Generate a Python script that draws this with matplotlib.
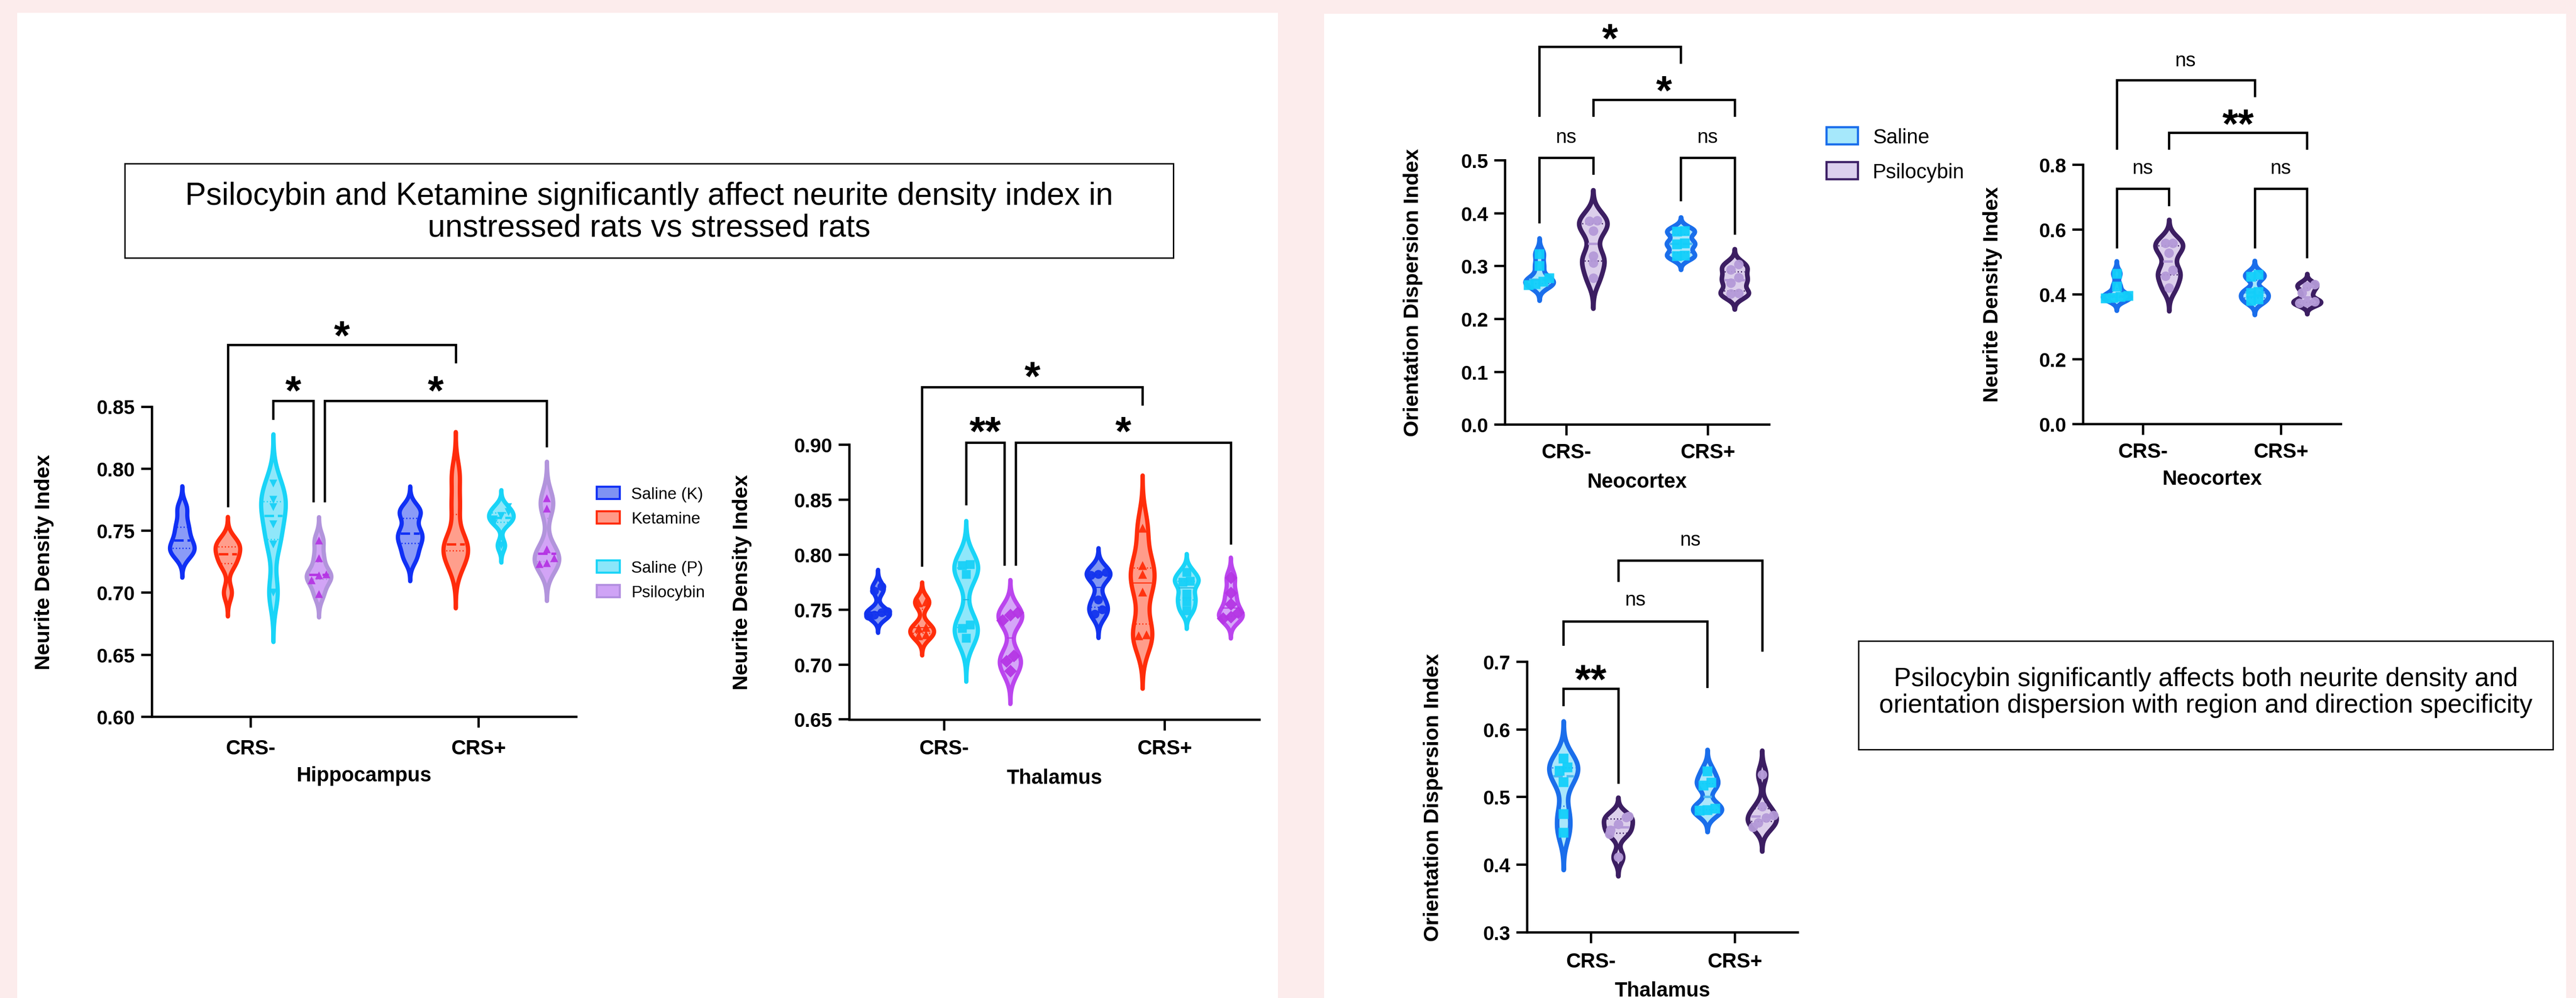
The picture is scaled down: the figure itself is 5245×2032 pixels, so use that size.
import matplotlib
matplotlib.use("Agg")
import matplotlib.pyplot as plt
import numpy as np
from matplotlib import transforms
from matplotlib.patches import Rectangle, Patch
from matplotlib.ticker import FormatStrFormatter

W, H, DPI = 5245, 2033, 100
PINK = "#fcecec"
plt.rcParams["font.family"] = ["Liberation Sans", "DejaVu Sans"]

# ---------------- data ----------------
groups = ["CRS-", "CRS+"]

hip_names = ["Saline (K)", "Ketamine", "Saline (P)", "Psilocybin"]
hip_neg = [
    [0.730, 0.735, 0.738, 0.746, 0.755, 0.768],
    [0.700, 0.722, 0.728, 0.734, 0.738, 0.742],
    [0.700, 0.739, 0.755, 0.769, 0.775, 0.788],
    [0.699, 0.710, 0.714, 0.715, 0.728, 0.742],
]
hip_pos = [
    [0.728, 0.738, 0.745, 0.750, 0.763, 0.767],
    [0.722, 0.733, 0.736, 0.742, 0.770, 0.795],
    [0.738, 0.756, 0.759, 0.762, 0.765, 0.769],
    [0.723, 0.724, 0.728, 0.735, 0.768, 0.776],
]
thal_neg = [
    [0.744, 0.745, 0.747, 0.748, 0.767, 0.771],
    [0.726, 0.727, 0.733, 0.734, 0.756, 0.757],
    [0.724, 0.733, 0.736, 0.782, 0.790, 0.791],
    [0.694, 0.703, 0.708, 0.740, 0.745, 0.747],
]
thal_pos = [
    [0.746, 0.750, 0.759, 0.781, 0.782, 0.784],
    [0.726, 0.727, 0.766, 0.782, 0.790, 0.824],
    [0.749, 0.757, 0.764, 0.775, 0.776, 0.784],
    [0.742, 0.743, 0.747, 0.755, 0.765, 0.779],
]

psi_names = ["Saline", "Psilocybin"]
neo_odi_neg = [[0.264, 0.266, 0.271, 0.277, 0.300, 0.323],
               [0.277, 0.306, 0.319, 0.366, 0.385, 0.386]]
neo_odi_pos = [[0.319, 0.320, 0.341, 0.343, 0.365, 0.366],
               [0.247, 0.248, 0.268, 0.278, 0.293, 0.303]]
neo_ndi_neg = [[0.388, 0.390, 0.392, 0.395, 0.425, 0.464],
               [0.420, 0.456, 0.475, 0.527, 0.557, 0.558]]
neo_ndi_pos = [[0.380, 0.385, 0.405, 0.408, 0.455, 0.460],
               [0.372, 0.375, 0.378, 0.405, 0.425, 0.430]]
thal_odi_neg = [[0.447, 0.475, 0.522, 0.539, 0.544, 0.557],
                [0.411, 0.445, 0.451, 0.460, 0.470, 0.471]]
thal_odi_pos = [[0.480, 0.481, 0.483, 0.517, 0.521, 0.538],
                [0.455, 0.462, 0.469, 0.473, 0.486, 0.533]]

title_left = "Psilocybin and Ketamine significantly affect neurite density index in\nunstressed rats vs stressed rats"
title_right = "Psilocybin significantly affects both neurite density and\norientation dispersion with region and direction specificity"

# ---------------- styles ----------------
hip_style = [
    dict(edge="#1030f5", face="#8a9bf7", marker=None, mc="#1030f5", medc="#1030f5"),
    dict(edge="#ff2b0b", face="#ff9e8c", marker=None, mc="#ff2b0b", medc="#ff2b0b"),
    dict(edge="#19d4f7", face="#8fe7fa", marker="v", mc="#17d0f7", medc="#19d4f7"),
    dict(edge="#b294dc", face="#d2a4f6", marker="^", mc="#b535e4", medc="#b535e4"),
]
thal_style = [
    dict(edge="#1233ee", face="#8297f2", marker="o", mc="#1233ee", medc="#1233ee"),
    dict(edge="#ff2d0a", face="#ff9c8a", marker="^", mc="#ff2d0a", medc="#ff2d0a"),
    dict(edge="#19d4f7", face="#8fe7fa", marker="s", mc="#17d0f7", medc="#19b8e0"),
    dict(edge="#bb45ee", face="#d5a6f8", marker="D", mc="#b535e4", medc="#b535e4"),
]
psi_style = [
    dict(edge="#1a6eeb", face="#a9e6fb", marker="s", mc="#12cffa", medc="#4cb9f2"),
    dict(edge="#3c1e62", face="#dccfeb", marker="o", mc="#b49ad8", medc="#b49ad8"),
]

fig = plt.figure(figsize=(W / DPI, H / DPI), dpi=DPI, facecolor=PINK)
fig.add_artist(Rectangle((35 / W, 0), (2602 - 35) / W, 1 - 27 / H, transform=fig.transFigure,
                         facecolor="white", edgecolor="none", zorder=0))
fig.add_artist(Rectangle((2696 / W, 0), (5225 - 2696) / W, 1 - 29 / H, transform=fig.transFigure,
                         facecolor="white", edgecolor="none", zorder=0))


def px_axes(x0, x1, y0, y1):
    ax = fig.add_axes([x0 / W, 1 - y1 / H, (x1 - x0) / W, (y1 - y0) / H])
    ax.patch.set_visible(False)
    return ax


def kde_shape(vals):
    v = np.asarray(vals, float)
    h = 0.42 * v.std(ddof=1)
    y = np.linspace(v.min() - 3 * h, v.max() + 3 * h, 400)
    d = np.exp(-0.5 * ((y[:, None] - v[None, :]) / h) ** 2).sum(axis=1)
    return y, d / d.max()


def swarm(vals, tol, dx, y, half):
    v = np.asarray(vals, float)
    order = np.argsort(v)
    offs = np.zeros_like(v)
    clusters, cur = [], [order[0]]
    for a, b in zip(order[:-1], order[1:]):
        if v[b] - v[a] < tol:
            cur.append(b)
        else:
            clusters.append(cur)
            cur = [b]
    clusters.append(cur)
    for c in clusters:
        for i, idx in enumerate(c):
            offs[idx] = (i - (len(c) - 1) / 2) * dx
    lim = np.interp(v, y, half) * 0.85
    return np.clip(offs, -lim, lim)


def violin(ax, vals, pos, width, st, med_kind, lw, tol, dx, ms):
    y, d = kde_shape(vals)
    half = d * width / 2
    ax.fill_betweenx(y, pos - half, pos + half, facecolor=st["face"], edgecolor=st["edge"],
                     linewidth=lw, joinstyle="round", capstyle="round", zorder=2)
    q1, md, q3 = np.percentile(vals, [25, 50, 75])
    for q in (q1, q3):
        hw = np.interp(q, y, half) * 0.8
        ax.plot([pos - hw, pos + hw], [q, q], color=st["edge"], lw=2.0,
                ls=(0, (0.8, 1.6)), zorder=3)
    hw = np.interp(md, y, half) * 0.8
    if med_kind == "solid":
        ax.plot([pos - hw, pos + hw], [md, md], color=st["medc"], lw=1.6, zorder=3)
    else:
        ax.plot([pos - hw, pos + hw], [md, md], color=st["medc"], lw=3.5,
                ls=(0, (4, 1.6)), zorder=3)
    if st["marker"]:
        xo = swarm(vals, tol, dx, y, half)
        ax.plot(pos + xo, vals, ls="none", marker=st["marker"], color=st["mc"],
                ms=ms, mec="none", zorder=4, alpha=0.95)


def style_axes(ax, xlim, ylim, ticks, fmt, ylabel, xlabel, ylab_x, xlab_y, xpad):
    ax.set_xlim(*xlim)
    ax.set_ylim(*ylim)
    for s in ("top", "right"):
        ax.spines[s].set_visible(False)
    for s in ("left", "bottom"):
        ax.spines[s].set_linewidth(3.4)
    ax.set_yticks(ticks)
    ax.yaxis.set_major_formatter(FormatStrFormatter(fmt))
    ax.set_xticks([0, 1])
    ax.set_xticklabels(groups)
    ax.tick_params(axis="both", length=16, width=3.4)
    ax.tick_params(axis="y", labelsize=29, pad=8.5)
    ax.tick_params(axis="x", labelsize=30, pad=xpad)
    for t in ax.get_xticklabels() + ax.get_yticklabels():
        t.set_fontweight("bold")
    ax.set_ylabel(ylabel, fontsize=31, fontweight="bold", va="center")
    ax.yaxis.set_label_coords(ylab_x, 0.5)
    ax.set_xlabel(xlabel, fontsize=30, fontweight="bold", va="center")
    ax.xaxis.set_label_coords(0.5, xlab_y)


def bracket(ax, x1, x2, ybar, yl, yr, text, ty):
    ax.plot([x1, x1, x2, x2], [yl, ybar, ybar, yr], color="black", lw=3.4,
            clip_on=False, solid_joinstyle="miter", zorder=5)
    if text == "ns":
        fs, k, wt = 29, 0.26, "normal"
    else:
        fs, k, wt = 60, 0.55, "bold"
    tr = transforms.offset_copy(ax.transData, fig=fig, y=-k * fs, units="points")
    ax.text((x1 + x2) / 2, ty, text, transform=tr, ha="center", va="baseline",
            fontsize=fs, fontweight=wt, clip_on=False, zorder=5)


def draw(ax, neg, pos, offsets, width, styles, med_kind, lw, tol, dx, ms):
    for base, grp in ((0.0, neg), (1.0, pos)):
        for vals, off, st in zip(grp, offsets, styles):
            violin(ax, vals, base + off, width, st, med_kind, lw, tol, dx, ms)


four = [-0.3, -0.1, 0.1, 0.3]
two = [-0.19, 0.19]

# ---- Hippocampus ----
ax = px_axes(309, 1173, 828.5, 1460)
draw(ax, hip_neg, hip_pos, four, 0.108, hip_style, "dash", 6.2, 0.0055, 0.032, 12)
style_axes(ax, (-0.433, 1.429), (0.60, 0.85), np.arange(0.60, 0.851, 0.05), "%.2f",
           "Neurite Density Index", "Hippocampus", -0.2535, -0.19, 16.5)
bracket(ax, -0.1, 0.9, 0.8997, 0.770, 0.886, "*", 0.9144)
bracket(ax, 0.1, 0.277, 0.8544, 0.8403, 0.7736, "*", 0.870)
bracket(ax, 0.325, 1.3, 0.8544, 0.7736, 0.818, "*", 0.870)

# ---- Thalamus (NDI) ----
ax = px_axes(1729, 2564, 906, 1465.5)
draw(ax, thal_neg, thal_pos, four, 0.108, thal_style, "solid", 6.2, 0.006, 0.034, 13)
style_axes(ax, (-0.43, 1.43), (0.65, 0.90), np.arange(0.65, 0.901, 0.05), "%.2f",
           "Neurite Density Index", "Thalamus", -0.261, -0.213, 12.5)
bracket(ax, -0.1, 0.9, 0.9525, 0.790, 0.9368, "*", 0.970)
bracket(ax, 0.1, 0.275, 0.902, 0.846, 0.791, "**", 0.920)
bracket(ax, 0.325, 1.3, 0.902, 0.791, 0.810, "*", 0.920)

fig.legend([Patch(facecolor="#7f93f3", edgecolor="#1030f5", lw=3),
            Patch(facecolor="#ff9a88", edgecolor="#ff2b0b", lw=3),
            Patch(facecolor="none", edgecolor="none"),
            Patch(facecolor="#8be6fa", edgecolor="#19d4f7", lw=3),
            Patch(facecolor="#cfa3f6", edgecolor="#b38fe0", lw=3)],
           [hip_names[0], hip_names[1], "", hip_names[2], hip_names[3]],
           loc="upper left", bbox_to_anchor=(1215 / W, 1 - 992 / H), frameon=False,
           fontsize=24, handlelength=1.41, handleheight=0.75, handletextpad=0.7,
           labelspacing=0.57, borderpad=0, borderaxespad=0)

# ---- Neocortex ODI ----
ax = px_axes(3064, 3602, 327, 865.4)
draw(ax, neo_odi_neg, neo_odi_pos, two, 0.2, psi_style, "dash", 6.8, 0.012, 0.055, 14)
style_axes(ax, (-0.434, 1.434), (0.0, 0.5), np.arange(0.0, 0.51, 0.1), "%.1f",
           "Orientation Dispersion Index", "Neocortex", -0.3476, -0.2167, 10)
bracket(ax, -0.19, 0.81, 0.7148, 0.5845, 0.685, "*", 0.7473)
bracket(ax, 0.19, 1.19, 0.614, 0.5845, 0.5845, "*", 0.6485)
bracket(ax, -0.19, 0.19, 0.5045, 0.383, 0.475, "ns", 0.543)
bracket(ax, 0.81, 1.19, 0.5045, 0.425, 0.362, "ns", 0.543)

# ---- Neocortex NDI ----
ax = px_axes(4241, 4766, 336, 864)
draw(ax, neo_ndi_neg, neo_ndi_pos, two, 0.2, psi_style, "dash", 6.8, 0.02, 0.055, 14)
style_axes(ax, (-0.434, 1.434), (0.0, 0.8), np.arange(0.0, 0.81, 0.2), "%.1f",
           "Neurite Density Index", "Neocortex", -0.350, -0.212, 11)
bracket(ax, -0.19, 0.81, 1.06, 0.85, 1.012, "ns", 1.121)
bracket(ax, 0.19, 1.19, 0.8985, 0.85, 0.85, "**", 0.953)
bracket(ax, -0.19, 0.19, 0.7264, 0.5457, 0.676, "ns", 0.788)
bracket(ax, 0.81, 1.19, 0.7264, 0.5457, 0.515, "ns", 0.788)

fig.legend([Patch(facecolor="#a6e8fb", edgecolor="#1a6eeb", lw=3.2),
            Patch(facecolor="#dcd0ee", edgecolor="#3d2066", lw=3.2)],
           psi_names, loc="upper left", bbox_to_anchor=(3719 / W, 1 - 260 / H),
           frameon=False, fontsize=30, handlelength=1.53, handleheight=0.91,
           handletextpad=0.72, labelspacing=0.72, borderpad=0, borderaxespad=0)

# ---- Thalamus ODI ----
ax = px_axes(3109, 3660, 1347.8, 1899)
draw(ax, thal_odi_neg, thal_odi_pos, two, 0.2, psi_style, "dash", 6.8, 0.01, 0.055, 14)
style_axes(ax, (-0.444, 1.437), (0.3, 0.7), np.arange(0.3, 0.71, 0.1), "%.1f",
           "Orientation Dispersion Index", "Thalamus", -0.3466, -0.216, 13)
bracket(ax, -0.19, 0.19, 0.6599, 0.636, 0.5213, "**", 0.687)
bracket(ax, -0.19, 0.81, 0.7597, 0.7253, 0.6632, "ns", 0.7908)
bracket(ax, 0.19, 1.19, 0.8495, 0.8194, 0.7167, "ns", 0.8796)

# ---- text boxes ----
fig.add_artist(Rectangle((254 / W, 1 - 526 / H), (2389 - 254) / W, (526 - 334) / H,
                         transform=fig.transFigure, facecolor="white", edgecolor="black", lw=2))
fig.text(1321.5 / W, 1 - 432 / H, title_left, ha="center", va="center",
         multialignment="center", fontsize=46, linespacing=1.1)
fig.add_artist(Rectangle((3784 / W, 1 - 1527 / H), (5198 - 3784) / W, (1527 - 1306) / H,
                         transform=fig.transFigure, facecolor="white", edgecolor="black", lw=2))
fig.text(4491 / W, 1 - 1410 / H, title_right, ha="center", va="center",
         multialignment="center", fontsize=38, linespacing=1.08)

fig.savefig("out.png", dpi=DPI, facecolor=PINK)
